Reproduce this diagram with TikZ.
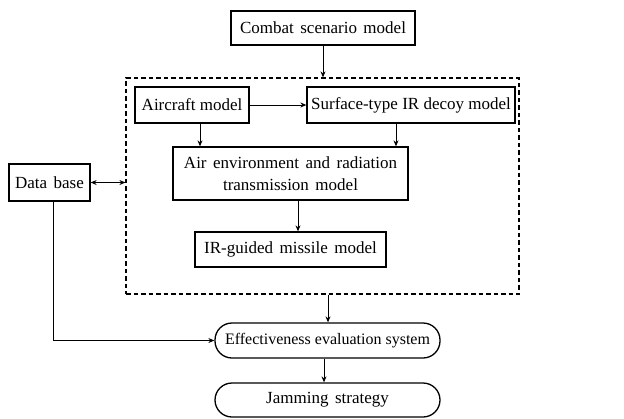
\documentclass[tikz,border=0pt]{standalone}
\usepackage{fontspec}
\setmainfont{Liberation Serif}
\usetikzlibrary{arrows.meta}
\newcommand{\boxfont}{\fontsize{17}{22}\selectfont\spaceskip=6.5pt plus 1pt minus 1pt\relax}
\newcommand{\tightfont}{\fontsize{17}{22}\selectfont\spaceskip=0pt\relax}
\newcommand{\smallboxfont}{\fontsize{16}{22}\selectfont\spaceskip=0pt\relax}
\begin{document}
\begin{tikzpicture}[x=1pt,y=-1pt,
  box/.style={draw,line width=1.3pt,inner sep=0pt,align=center,font=\boxfont},
  tight/.style={font=\tightfont},
  narrow/.style={font=\smallboxfont},
  oval/.style={box,rounded corners=17pt},
  arr/.style={line width=1pt,-{Stealth[length=6pt,width=5pt]}},
  dbl/.style={line width=1pt,{Stealth[length=6pt,width=5pt]}-{Stealth[length=6pt,width=5pt]}}]
\useasboundingbox (0,0) rectangle (624,418);
\node[box,minimum width=184pt,minimum height=34pt] (combat) at (323,28) {Combat scenario model};
\node[draw,dash pattern=on 4.5pt off 3pt,line width=1.2pt,minimum width=393pt,minimum height=216pt,inner sep=0pt] (dash) at (322.5,186) {};
\node[box,tight,minimum width=114pt,minimum height=36pt] (aircraft) at (192,105) {Aircraft model};
\node[box,tight,minimum width=208pt,minimum height=36pt] (surface) at (411,105) {Surface-type IR decoy model};
\node[box,minimum width=235pt,minimum height=53pt] (air) at (290.5,173.5) {Air environment and radiation\\transmission model};
\node[box,minimum width=191pt,minimum height=35pt] (missile) at (290.5,249.5) {IR-guided missile model};
\node[box,minimum width=81pt,minimum height=37pt] (db) at (49.5,182.5) {Data base};
\node[oval,narrow,minimum width=225pt,minimum height=35pt] (eff) at (327.5,340.5) {Effectiveness evaluation system};
\node[oval,minimum width=225pt,minimum height=34pt] (jam) at (327.5,400) {Jamming strategy};
\draw[arr] (combat.south) -- (combat.south |- dash.north);
\draw[arr] (aircraft.east) -- (surface.west);
\draw[arr] (aircraft.south -| 200,0) -- (air.north -| 200,0);
\draw[arr] (surface.south -| 396,0) -- (air.north -| 396,0);
\draw[arr] (air.south -| 298,0) -- (missile.north -| 298,0);
\draw[dbl] (db.east) -- (db.east -| dash.west);
\draw[arr] (dash.south -| 328,0) -- (eff.north -| 328,0);
\draw[arr] (db.south -| 53,0) |- (eff.west);
\draw[arr] (eff.south -| 324,0) -- (jam.north -| 324,0);
\end{tikzpicture}
\end{document}
